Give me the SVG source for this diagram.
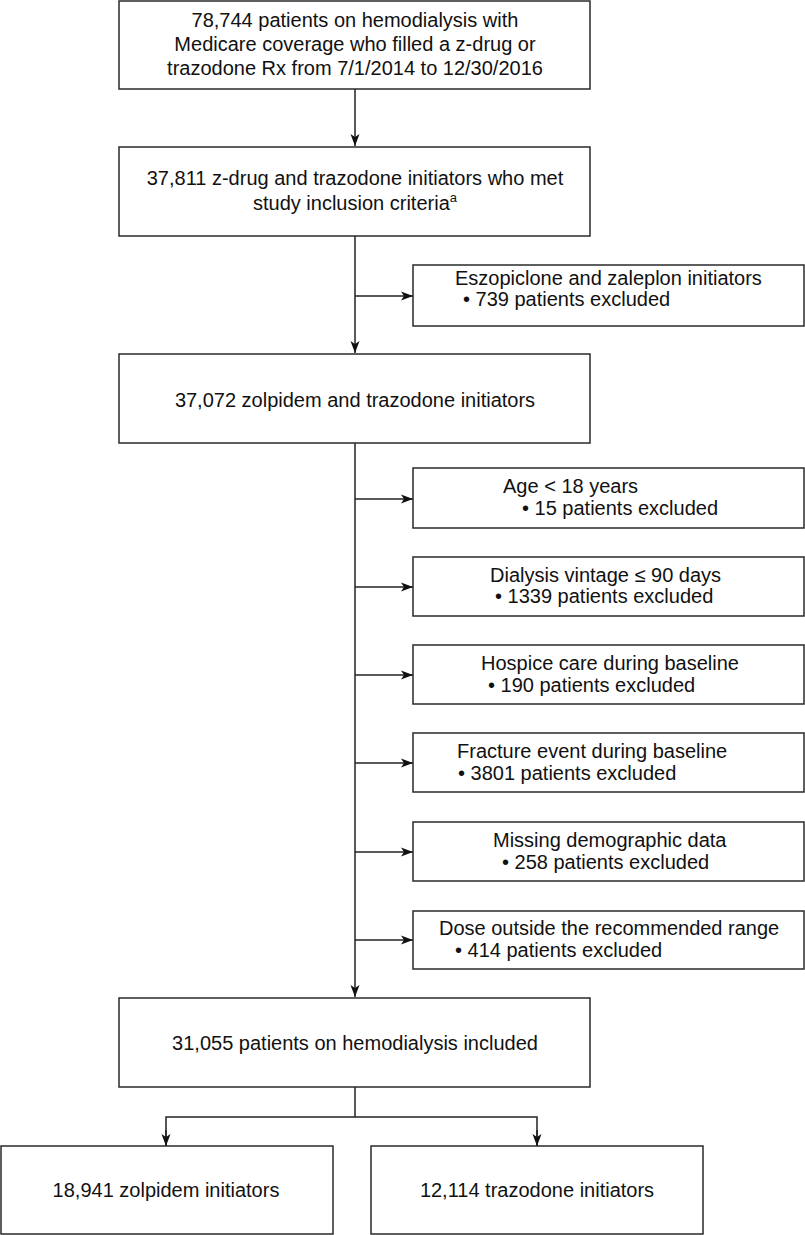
<svg xmlns="http://www.w3.org/2000/svg" width="805" height="1235" viewBox="0 0 805 1235">
<style>
rect.box{fill:#fff;stroke:#2a2a2a;stroke-width:1.5}
text{font-family:"Liberation Sans",Arial,Helvetica,sans-serif;font-size:20px;fill:#111}
.c{text-anchor:middle}
.ln{stroke:#222;stroke-width:1.5;fill:none}
</style>
<defs>
<marker id="ah" viewBox="0 0 12 10" refX="12" refY="5" markerWidth="12" markerHeight="10" markerUnits="userSpaceOnUse" orient="auto">
<path d="M0,0.5 L12,5 L0,9.5 L3,5 Z" fill="#111"/>
</marker>
</defs>
<g id="connectors">
<line class="ln" x1="355" y1="89" x2="355" y2="146" marker-end="url(#ah)"/>
<line class="ln" x1="355" y1="236" x2="355" y2="353" marker-end="url(#ah)"/>
<line class="ln" x1="355" y1="443" x2="355" y2="997" marker-end="url(#ah)"/>
<line class="ln" x1="355" y1="296" x2="413" y2="296" marker-end="url(#ah)"/>
<line class="ln" x1="355" y1="499" x2="413" y2="499" marker-end="url(#ah)"/>
<line class="ln" x1="355" y1="587" x2="413" y2="587" marker-end="url(#ah)"/>
<line class="ln" x1="355" y1="675" x2="413" y2="675" marker-end="url(#ah)"/>
<line class="ln" x1="355" y1="763" x2="413" y2="763" marker-end="url(#ah)"/>
<line class="ln" x1="355" y1="852" x2="413" y2="852" marker-end="url(#ah)"/>
<line class="ln" x1="355" y1="940" x2="413" y2="940" marker-end="url(#ah)"/>
<polyline class="ln" points="355,1087 355,1117"/>
<polyline class="ln" points="166,1146 166,1117 537,1117 537,1146"/>
<line class="ln" x1="166" y1="1130" x2="166" y2="1146" marker-end="url(#ah)"/>
<line class="ln" x1="537" y1="1130" x2="537" y2="1146" marker-end="url(#ah)"/>
</g>
<g id="n1">
<rect class="box" x="119" y="1" width="471" height="88"/>
<text class="c" x="355" y="27">78,744 patients on hemodialysis with</text>
<text class="c" x="355" y="51">Medicare coverage who filled a z-drug or</text>
<text class="c" x="355" y="75">trazodone Rx from 7/1/2014 to 12/30/2016</text>
</g>
<g id="n2">
<rect class="box" x="119" y="147" width="471" height="89"/>
<text class="c" x="355" y="185">37,811 z-drug and trazodone initiators who met</text>
<text class="c" x="355" y="210">study inclusion criteria<tspan font-size="13" dy="-8">a</tspan></text>
</g>
<g id="x1">
<rect class="box" x="413" y="265" width="391" height="61"/>
<text x="455" y="285">Eszopiclone and zaleplon initiators</text>
<text x="463" y="306">• 739 patients excluded</text>
</g>
<g id="n3">
<rect class="box" x="119" y="354" width="471" height="89"/>
<text class="c" x="355" y="407">37,072 zolpidem and trazodone initiators</text>
</g>
<g id="x2">
<rect class="box" x="413" y="468" width="391" height="60"/>
<text x="503" y="493">Age &lt; 18 years</text>
<text x="522" y="515">• 15 patients excluded</text>
</g>
<g id="x3">
<rect class="box" x="413" y="557" width="391" height="59"/>
<text x="490" y="582">Dialysis vintage ≤ 90 days</text>
<text x="495" y="603">• 1339 patients excluded</text>
</g>
<g id="x4">
<rect class="box" x="413" y="645" width="391" height="59"/>
<text x="481" y="670">Hospice care during baseline</text>
<text x="488" y="692">• 190 patients excluded</text>
</g>
<g id="x5">
<rect class="box" x="413" y="733" width="391" height="59"/>
<text x="457" y="758">Fracture event during baseline</text>
<text x="458" y="780">• 3801 patients excluded</text>
</g>
<g id="x6">
<rect class="box" x="413" y="822" width="391" height="59"/>
<text x="493" y="847">Missing demographic data</text>
<text x="502" y="869">• 258 patients excluded</text>
</g>
<g id="x7">
<rect class="box" x="413" y="911" width="391" height="58"/>
<text x="439" y="935">Dose outside the recommended range</text>
<text x="455" y="957">• 414 patients excluded</text>
</g>
<g id="n4">
<rect class="box" x="119" y="998" width="471" height="89"/>
<text class="c" x="355" y="1050">31,055 patients on hemodialysis included</text>
</g>
<g id="n5">
<rect class="box" x="1" y="1146" width="332" height="88"/>
<text class="c" x="166" y="1197">18,941 zolpidem initiators</text>
</g>
<g id="n6">
<rect class="box" x="371" y="1146" width="332" height="88"/>
<text class="c" x="537" y="1197">12,114 trazodone initiators</text>
</g>
</svg>
